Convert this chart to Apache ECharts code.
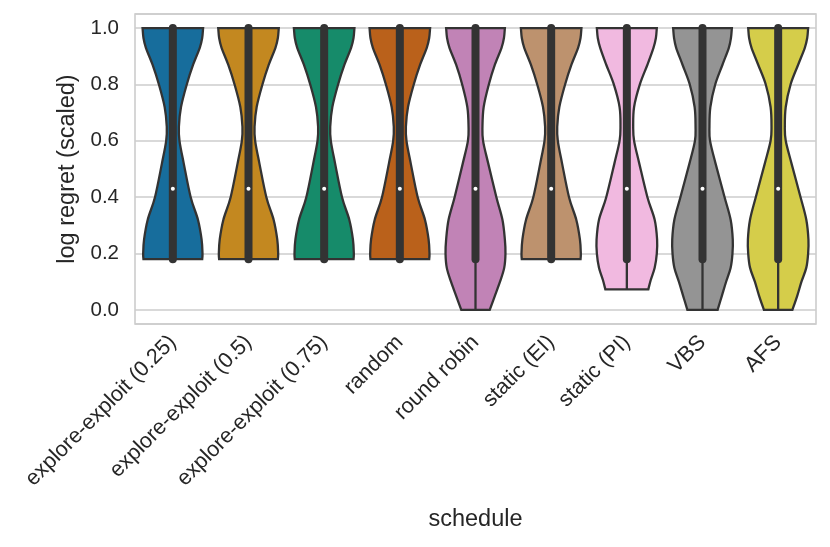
<!DOCTYPE html>
<html>
<head>
<meta charset="utf-8">
<script src="https://cdn.jsdelivr.net/npm/echarts@6/dist/echarts.min.js"></script>
<style>html,body{margin:0;padding:0;background:#fff}#chart{width:830px;height:547px}</style>
</head>
<body>
<div id="chart"></div>
<script>
// ---- data ----
const categories = ['explore-exploit (0.25)', 'explore-exploit (0.5)', 'explore-exploit (0.75)', 'random', 'round robin', 'static (EI)', 'static (PI)', 'VBS', 'AFS'];
const yTicks = [0.0, 0.2, 0.4, 0.6, 0.8, 1.0];

// density sample heights (log regret scaled)
const levelsA = [1.00, 0.965, 0.93, 0.87, 0.80, 0.72, 0.65, 0.60, 0.52, 0.40, 0.32, 0.25, 0.20, 0.18];
const levelsB = [1.00, 0.965, 0.93, 0.87, 0.80, 0.72, 0.65, 0.60, 0.52, 0.40, 0.32, 0.25, 0.20, 0.15, 0.10, 0.05, 0.00];
const levelsC = [1.00, 0.965, 0.93, 0.87, 0.80, 0.72, 0.65, 0.60, 0.52, 0.40, 0.32, 0.25, 0.20, 0.15, 0.106, 0.073];

// relative violin half-widths at those heights
const widthEE025 = [1.00, 0.97, 0.89, 0.67, 0.46, 0.27, 0.20, 0.22, 0.36, 0.59, 0.83, 0.95, 0.98, 0.97];
const widthEE05  = [1.00, 0.97, 0.89, 0.67, 0.46, 0.27, 0.20, 0.22, 0.36, 0.59, 0.83, 0.95, 0.98, 0.97];
const widthEE075 = [1.00, 0.97, 0.89, 0.67, 0.46, 0.27, 0.20, 0.22, 0.36, 0.59, 0.83, 0.95, 0.98, 0.97];
const widthRandom = [1.00, 0.97, 0.89, 0.67, 0.46, 0.27, 0.20, 0.22, 0.36, 0.59, 0.83, 0.95, 0.98, 0.97];
const widthRR    = [0.97, 0.94, 0.86, 0.64, 0.44, 0.27, 0.23, 0.25, 0.42, 0.69, 0.89, 0.97, 0.99, 0.95, 0.81, 0.64, 0.47];
const widthEI    = [1.00, 0.97, 0.89, 0.67, 0.46, 0.27, 0.20, 0.22, 0.36, 0.59, 0.83, 0.95, 0.98, 0.97];
const widthPI    = [0.99, 0.96, 0.88, 0.68, 0.43, 0.24, 0.21, 0.24, 0.41, 0.68, 0.92, 1.00, 0.99, 0.92, 0.79, 0.71];
const widthVBS   = [0.97, 0.94, 0.87, 0.66, 0.42, 0.26, 0.23, 0.25, 0.43, 0.73, 0.93, 1.00, 0.99, 0.93, 0.78, 0.64, 0.50];
const widthAFS   = [0.99, 0.96, 0.88, 0.66, 0.41, 0.25, 0.22, 0.25, 0.44, 0.74, 0.93, 1.00, 0.99, 0.93, 0.77, 0.63, 0.47];

const violinLevels = [levelsA, levelsA, levelsA, levelsA, levelsB, levelsA, levelsC, levelsB, levelsB];
const violinWidths = [widthEE025, widthEE05, widthEE075, widthRandom, widthRR, widthEI, widthPI, widthVBS, widthAFS];

// box statistics
const minValues    = [0.18, 0.18, 0.18, 0.18, 0.00, 0.18, 0.073, 0.00, 0.00];
const q1Values     = [0.18, 0.18, 0.18, 0.18, 0.18, 0.18, 0.18, 0.18, 0.18];
const q3Values     = [1.00, 1.00, 1.00, 1.00, 1.00, 1.00, 1.00, 1.00, 1.00];
const medianValues = [0.43, 0.43, 0.43, 0.43, 0.43, 0.43, 0.43, 0.43, 0.43];

// ---- styles ----
const palette = ['#176d9c', '#c38820', '#168b6a', '#ba611b', '#c183b6', '#bd926e', '#f1b9e0', '#949494', '#d5cd4a'];
const edge = '#333333';
const textColor = '#262626';
const font = '"Liberation Sans", Arial, Helvetica, sans-serif';

function crSegments(pts) {
  let s = '';
  for (let k = 0; k < pts.length - 1; k++) {
    const p0 = pts[Math.max(k - 1, 0)], p1 = pts[k], p2 = pts[k + 1], p3 = pts[Math.min(k + 2, pts.length - 1)];
    const c1x = p1[0] + (p2[0] - p0[0]) / 6, c1y = p1[1] + (p2[1] - p0[1]) / 6;
    const c2x = p2[0] - (p3[0] - p1[0]) / 6, c2y = p2[1] - (p3[1] - p1[1]) / 6;
    s += ' C' + c1x + ',' + c1y + ' ' + c2x + ',' + c2y + ' ' + p2[0] + ',' + p2[1];
  }
  return s;
}

function renderViolin(params, api) {
  const i = api.value(0);
  const cx = api.coord([i, 0])[0];
  const band = api.size([1, 0])[0];
  const hw = band * 0.4;
  const lv = violinLevels[i], wd = violinWidths[i];
  const right = lv.map((v, k) => [cx + wd[k] * hw, api.coord([i, v])[1]]);
  const left = lv.map((v, k) => [cx - wd[k] * hw, api.coord([i, v])[1]]).reverse();
  const d = 'M' + right[0][0] + ',' + right[0][1] + crSegments(right) +
            ' L' + left[0][0] + ',' + left[0][1] + crSegments(left) + ' Z';
  const yMin = api.coord([i, minValues[i]])[1];
  const yQ1 = api.coord([i, q1Values[i]])[1];
  const yQ3 = api.coord([i, q3Values[i]])[1];
  const yMed = api.coord([i, medianValues[i]])[1];
  return {
    type: 'group',
    children: [
      { type: 'path', shape: { pathData: d }, style: { fill: palette[i], stroke: edge, lineWidth: 2.3, lineJoin: 'miter' } },
      { type: 'line', shape: { x1: cx, y1: yMin, x2: cx, y2: yQ1 }, style: { stroke: edge, lineWidth: 2.3 } },
      { type: 'line', shape: { x1: cx, y1: yQ1, x2: cx, y2: yQ3 }, style: { stroke: edge, lineWidth: 8, lineCap: 'round' } },
      { type: 'circle', shape: { cx: cx, cy: yMed, r: 2.0 }, style: { fill: '#ffffff' } }
    ]
  };
}

const chart = echarts.init(document.getElementById('chart'), null, { renderer: 'canvas' });
chart.setOption({
  animation: false,
  backgroundColor: '#ffffff',
  grid: { left: 135, top: 14, width: 681, height: 310, show: true, borderColor: '#cccccc', borderWidth: 1.6, containLabel: false, outerBoundsMode: 'none' },
  xAxis: {
    type: 'category',
    data: categories,
    boundaryGap: true,
    axisLine: { show: false },
    axisTick: { show: false },
    splitLine: { show: false },
    axisLabel: { interval: 0, rotate: 45, fontSize: 21.6, color: textColor, fontFamily: font, margin: 15 },
    name: 'schedule',
    nameLocation: 'middle',
    nameGap: 184,
    nameTextStyle: { fontSize: 23.5, color: textColor, fontFamily: font }
  },
  yAxis: {
    type: 'value',
    min: -0.05,
    max: 1.05,
    minInterval: 0.2,
    maxInterval: 0.2,
    axisLine: { show: false },
    axisTick: { show: false },
    splitLine: { show: true, lineStyle: { color: '#cccccc', width: 1.6 } },
    axisLabel: {
      fontSize: 20.5, color: textColor, fontFamily: font, margin: 16,
      formatter: function (v) {
        for (const t of yTicks) { if (Math.abs(v - t) < 1e-6) return t.toFixed(1); }
        return '';
      }
    },
    name: 'log regret (scaled)',
    nameLocation: 'middle',
    nameGap: 48,
    nameTextStyle: { fontSize: 23.5, color: textColor, fontFamily: font }
  },
  series: [{
    type: 'custom',
    renderItem: renderViolin,
    encode: { x: 0, y: 1 },
    data: categories.map((c, i) => [i, medianValues[i]]),
    clip: false
  }]
});
</script>
</body>
</html>
